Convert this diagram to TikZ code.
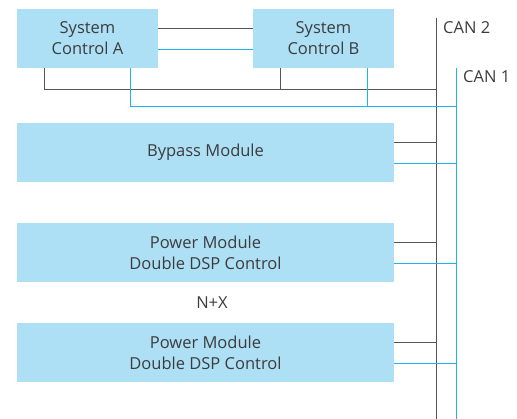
\documentclass[tikz,border=0pt]{standalone}
\usepackage{fontspec}
\setmainfont{Open Sans}
\usetikzlibrary{calc}
\definecolor{boxblue}{RGB}{173,223,245}
\definecolor{canblue}{RGB}{30,180,235}
\definecolor{cangray}{RGB}{85,85,85}
\definecolor{txtgray}{RGB}{60,60,60}
\tikzset{
	module/.style={fill=boxblue, text=txtgray, align=center, inner sep=0pt, font=\fontsize{16.5}{21}\selectfont},
	lineone/.style={line width=0.9pt, color=canblue},
	linetwo/.style={line width=0.9pt, color=cangray},
	buslabel/.style={anchor=west, text=txtgray, inner sep=0pt, font=\fontsize{16.5}{20}\selectfont}
}

\begin{document}
\begin{tikzpicture}[x=1pt, y=-1pt]
			%%%%% START %%%%%
			\useasboundingbox (0, 0) rectangle (517, 419);
			
			% controllers
			\node[module, minimum width=141pt, minimum height=59pt] (ctrlA) at (87.5, 38.5) {System\\Control A};
			\node[module, minimum width=141pt, minimum height=59pt] (ctrlB) at (323.5, 38.5) {System\\Control B};
			
			% modules
			\node[module, minimum width=377pt, minimum height=59pt] (bypass) at (205.5, 152.5) {Bypass Module};
			\node[module, minimum width=377pt, minimum height=59pt] (power1) at (205.5, 252.5) {Power Module\\Double DSP Control};
			\node[module, minimum width=377pt, minimum height=59pt] (power2) at (205.5, 352.5) {Power Module\\Double DSP Control};
			\node[text=txtgray, font=\fontsize{16.5}{20}\selectfont] (nx) at (212, 303) {N+X};
			
			% busses
			\coordinate (can2top) at (436, 18);
			\coordinate (can2end) at (436, 419);
			\coordinate (can1top) at (456, 68);
			\coordinate (can1end) at (456, 419);
			\draw[linetwo] (can2top) -- (can2end);
			\draw[lineone] (can1top) -- (can1end);
			\node[buslabel] (can2lbl) at (443, 28) {CAN 2};
			\node[buslabel] (can1lbl) at (463, 77) {CAN 1};
			
			% A -- B
			\draw[linetwo] ([yshift=10.5pt]ctrlA.east) -- ([yshift=10.5pt]ctrlB.west);
			\draw[lineone] ([yshift=-10.5pt]ctrlA.east) -- ([yshift=-10.5pt]ctrlB.west);
			
			% controllers to the busses
			\coordinate (tap2) at (436, 89);
			\coordinate (tap1) at (456, 106);
			\draw[linetwo] ([xshift=28pt]ctrlA.south west) |- (tap2);
			\draw[linetwo] ([xshift=28pt]ctrlB.south west) -- ([xshift=28pt]ctrlB.south west |- tap2);
			\draw[lineone] ([xshift=-28pt]ctrlA.south east) |- (tap1);
			\draw[lineone] ([xshift=-27pt]ctrlB.south east) -- ([xshift=-27pt]ctrlB.south east |- tap1);
			
			% modules to the busses
			\foreach \m in {bypass, power1, power2} {
				\draw[linetwo] ([yshift=10.5pt]\m.east) -- ([yshift=10.5pt]\m.east -| can2top);
				\draw[lineone] ([yshift=-10.5pt]\m.east) -- ([yshift=-10.5pt]\m.east -| can1top);
			}
			%%%%% END %%%%%
\end{tikzpicture}
\end{document}
